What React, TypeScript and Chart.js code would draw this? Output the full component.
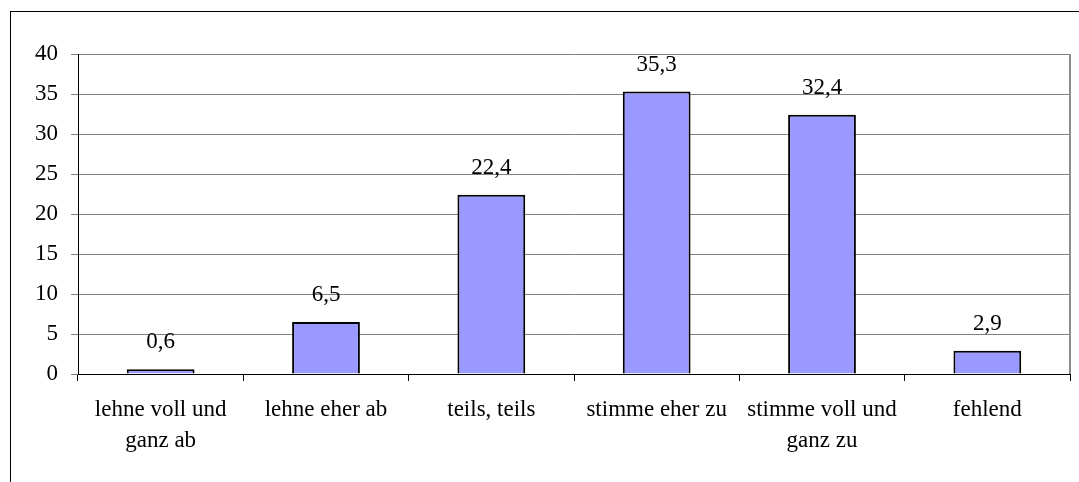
import React, { useEffect, useRef } from "react";
import { Chart, registerables } from "chart.js";

Chart.register(...registerables);

const categories: (string | string[])[] = [
  ["lehne voll und", "ganz ab"],
  "lehne eher ab",
  "teils, teils",
  "stimme eher zu",
  ["stimme voll und", "ganz zu"],
  "fehlend",
];
const values = [0.6, 6.5, 22.4, 35.3, 32.4, 2.9];
const valueLabels = ["0,6", "6,5", "22,4", "35,3", "32,4", "2,9"];

const FONT = "'Liberation Serif', 'Times New Roman', serif";

const labelPlugin = {
  id: "valueLabels",
  afterDatasetsDraw(chart: any) {
    const ctx = chart.ctx;
    const meta = chart.getDatasetMeta(0);
    ctx.save();
    ctx.font = `23px ${FONT}`;
    ctx.fillStyle = "#000";
    ctx.textAlign = "center";
    ctx.textBaseline = "middle";
    meta.data.forEach((bar: any, i: number) => {
      ctx.fillText(valueLabels[i], bar.x, bar.y - 27);
    });
    ctx.restore();
  },
};

const borderPlugin = {
  id: "rightBorder",
  afterDraw(chart: any) {
    const { ctx, chartArea } = chart;
    ctx.save();
    ctx.strokeStyle = "#8c8c8c";
    ctx.lineWidth = 2;
    ctx.beginPath();
    ctx.moveTo(chartArea.right, chartArea.top);
    ctx.lineTo(chartArea.right, chartArea.bottom);
    ctx.stroke();
    ctx.restore();
  },
};

export default function App() {
  const ref = useRef<HTMLCanvasElement | null>(null);
  useEffect(() => {
    document.body.style.margin = "0";
    const chart = new Chart(ref.current!, {
      type: "bar",
      data: {
        labels: categories,
        datasets: [
          {
            data: values,
            backgroundColor: "#9999FF",
            borderColor: "#000000",
            borderWidth: 2,
            barPercentage: 0.41,
            categoryPercentage: 1,
          },
        ],
      },
      plugins: [labelPlugin, borderPlugin],
      options: {
        animation: false,
        responsive: false,
        maintainAspectRatio: false,
        layout: { padding: { left: 0, top: 54, right: 9, bottom: 0 } },
        plugins: { legend: { display: false }, tooltip: { enabled: false } },
        scales: {
          x: {
            grid: {
              display: true,
              drawOnChartArea: false,
              drawTicks: true,
              tickLength: 7,
              color: "#000",
              offset: true,
            },
            border: { color: "#000", width: 1 },
            ticks: {
              color: "#000",
              font: { family: FONT, size: 23, lineHeight: 1.36 },
              padding: 13,
              maxRotation: 0,
              autoSkip: false,
            },
            afterFit(scale: any) {
              scale.height = 108;
            },
          },
          y: {
            min: 0,
            max: 40,
            ticks: {
              stepSize: 5,
              color: "#000",
              font: { family: FONT, size: 23 },
              padding: 13,
            },
            grid: { color: "#808080", tickLength: 7, lineWidth: 1 },
            border: { color: "#000", width: 1 },
            afterFit(scale: any) {
              scale.width = 78;
            },
          },
        },
      },
    });
    return () => chart.destroy();
  }, []);
  return (
    <div
      style={{
        position: "fixed",
        left: 0,
        top: 0,
        width: 1079,
        height: 482,
        overflow: "hidden",
        background: "#fff",
      }}
    >
      <div
        style={{
          position: "absolute",
          left: 10,
          top: 11,
          width: 1200,
          height: 600,
          border: "1px solid #000",
          boxSizing: "border-box",
        }}
      />
      <canvas
        ref={ref}
        width={1079}
        height={482}
        style={{ position: "absolute", left: 0, top: 0, width: 1079, height: 482 }}
      />
    </div>
  );
}
